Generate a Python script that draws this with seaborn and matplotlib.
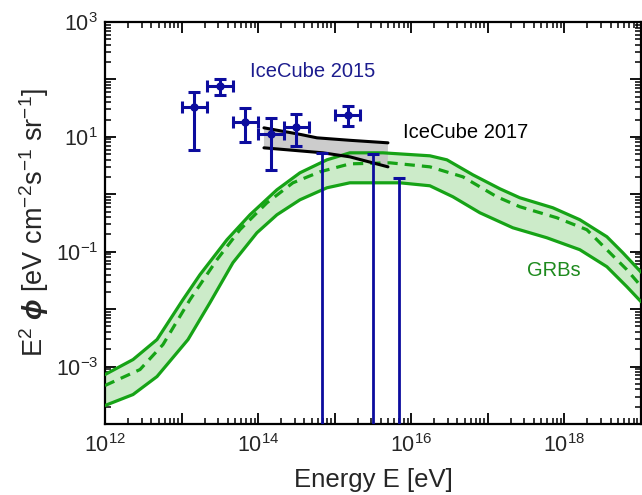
import numpy as np
import pandas as pd
import matplotlib
matplotlib.use("Agg")
import matplotlib.pyplot as plt
import matplotlib.ticker as mticker
import seaborn as sns

# ---------------- data ----------------
# IceCube 2015 data points (E^2 phi in eV cm^-2 s^-1 sr^-1)
ic15_E = [1.47e13, 3.16e13, 6.81e13, 1.47e14, 3.16e14, 1.47e15]
ic15_Elo = [1.0e13, 2.15e13, 4.64e13, 1.0e14, 2.15e14, 1.0e15]
ic15_Ehi = [2.15e13, 4.64e13, 1.0e14, 2.15e14, 4.64e14, 2.15e15]
ic15_flux = [32.9, 76.0, 18.0, 11.1, 14.7, 23.8]
ic15_fhi = [60.0, 101.0, 31.5, 21.0, 24.8, 34.0]
ic15_flo = [5.8, 53.0, 8.0, 2.7, 6.9, 15.3]

# IceCube 2015 upper limits
ul_E = [6.81e14, 3.16e15, 6.81e15]
ul_flux = [5.2, 5.1, 1.9]

# IceCube 2017 band (log10 values)
ic17_up_logE = [14.076, 14.56, 14.768, 15.198, 15.695]
ic17_up_logF = [1.157, 1.04, 0.983, 0.94, 0.896]
ic17_lo_logE = [14.076, 14.846, 15.198, 15.695]
ic17_lo_logF = [0.809, 0.722, 0.652, 0.478]

# GRB model band (log10 values)
grb_up_logE = [12.0, 12.366, 12.679, 13.018, 13.240, 13.593, 13.893, 14.245, 14.546,
               14.898, 15.198, 15.629, 16.243, 16.465, 16.804, 17.157, 17.418, 17.849,
               18.201, 18.554, 18.762, 19.0]
grb_up_logF = [-3.139, -2.878, -2.530, -1.835, -1.400, -0.791, -0.357, 0.078, 0.374,
               0.600, 0.722, 0.722, 0.670, 0.600, 0.339, 0.096, -0.061, -0.235,
               -0.443, -0.739, -1.017, -1.355]
grb_lo_logE = [12.0, 12.366, 12.679, 13.084, 13.371, 13.671, 13.984, 14.245, 14.546,
               14.898, 15.198, 15.851, 16.243, 16.543, 16.896, 17.326, 17.770, 18.201,
               18.554, 18.815, 19.0]
grb_lo_logF = [-3.678, -3.487, -3.174, -2.530, -1.887, -1.191, -0.670, -0.357, -0.096,
               0.113, 0.200, 0.200, 0.148, -0.043, -0.322, -0.583, -0.757, -0.965,
               -1.261, -1.609, -1.870]
grb_mid_logE = [12.0, 12.457, 12.757, 13.110, 13.462, 13.762, 14.115, 14.454, 14.807,
                15.198, 15.721, 16.243, 16.674, 17.117, 17.418, 17.901, 18.293, 18.554,
                18.815, 19.0]
grb_mid_logF = [-3.330, -3.052, -2.617, -1.835, -1.139, -0.617, -0.148, 0.200, 0.391,
                0.530, 0.548, 0.478, 0.304, -0.043, -0.217, -0.409, -0.617, -0.965,
                -1.313, -1.600]

# ---------------- style ----------------
sns.set_theme(style="ticks")
plt.rcParams["font.family"] = ["Liberation Sans", "DejaVu Sans"]
plt.rcParams["mathtext.fontset"] = "custom"
plt.rcParams["mathtext.rm"] = "Liberation Sans"
plt.rcParams["mathtext.it"] = "Liberation Sans:italic"
plt.rcParams["mathtext.bf"] = "Liberation Sans:bold:italic"
plt.rcParams["mathtext.default"] = "regular"

BLUE = "#0c0c9e"
BLUE_TXT = "#1c1c8e"
GREEN = "#16a316"
GREEN_TXT = "#1d8a1d"
GREEN_FILL = "#ccebc9"
GRAY_FILL = "#c4c4c4"

fig = plt.figure(figsize=(6.42, 4.95), dpi=100)
ax = fig.add_axes([105 / 642, 1 - 424 / 495, 536 / 642, 402 / 495])
ax.set_xscale("log")
ax.set_yscale("log")

def tolin(a):
    return np.power(10.0, np.asarray(a, dtype=float))

# GRB band
gu_E, gu_F = tolin(grb_up_logE), tolin(grb_up_logF)
gl_E, gl_F = tolin(grb_lo_logE), tolin(grb_lo_logF)
gm_E, gm_F = tolin(grb_mid_logE), tolin(grb_mid_logF)
ax.fill(np.concatenate([gu_E, gl_E[::-1]]), np.concatenate([gu_F, gl_F[::-1]]),
        color=GREEN_FILL, lw=0, zorder=1)

# IceCube 2017 band
iu_E, iu_F = tolin(ic17_up_logE), tolin(ic17_up_logF)
il_E, il_F = tolin(ic17_lo_logE), tolin(ic17_lo_logF)
ax.fill(np.concatenate([iu_E, il_E[::-1]]), np.concatenate([iu_F, il_F[::-1]]),
        color=GRAY_FILL, alpha=0.85, lw=0, zorder=2)

df_up = pd.DataFrame({"E": gu_E, "F": gu_F})
df_lo = pd.DataFrame({"E": gl_E, "F": gl_F})
sns.lineplot(data=df_up, x="E", y="F", ax=ax, color=GREEN, lw=2.3, sort=False, zorder=3)
sns.lineplot(data=df_lo, x="E", y="F", ax=ax, color=GREEN, lw=2.3, sort=False, zorder=3)
ax.plot(gm_E, gm_F, color=GREEN, lw=2.3, ls=(0, (3.2, 2.2)), zorder=3)

sns.lineplot(x=iu_E, y=iu_F, ax=ax, color="black", lw=2.2, sort=False, zorder=4)
sns.lineplot(x=il_E, y=il_F, ax=ax, color="black", lw=2.2, sort=False, zorder=4)

# IceCube 2015 points
E = np.array(ic15_E); F = np.array(ic15_flux)
xerr = [E - np.array(ic15_Elo), np.array(ic15_Ehi) - E]
yerr = [F - np.array(ic15_flo), np.array(ic15_fhi) - F]
ax.errorbar(E, F, xerr=xerr, yerr=yerr, fmt="o", ms=5, color=BLUE, ecolor=BLUE,
            elinewidth=2.2, capsize=4.5, capthick=2.2, zorder=5)

# upper limits
uE = np.array(ul_E); uF = np.array(ul_flux)
ax.errorbar(uE, uF, yerr=[uF - 1e-6, np.zeros_like(uF)], fmt="none", ecolor=BLUE,
            elinewidth=2.0, capsize=4.5, capthick=2.2, zorder=5)

ax.set_xlim(1e12, 1e19)
ax.set_ylim(1e-4, 1e3)

ax.xaxis.set_major_locator(mticker.LogLocator(base=10, numticks=20))
ax.yaxis.set_major_locator(mticker.LogLocator(base=10, numticks=20))
ax.xaxis.set_minor_locator(mticker.LogLocator(base=10, subs=np.arange(2, 10), numticks=100))
ax.yaxis.set_minor_locator(mticker.LogLocator(base=10, subs=np.arange(2, 10), numticks=100))
ax.xaxis.set_minor_formatter(mticker.NullFormatter())
ax.yaxis.set_minor_formatter(mticker.NullFormatter())

def xfmt(v, pos):
    e = int(round(np.log10(v)))
    return f"$10^{{{e}}}$" if e % 2 == 0 else ""

def yfmt(v, pos):
    e = int(round(np.log10(v)))
    return f"$10^{{{e}}}$" if e % 2 != 0 else ""

ax.xaxis.set_major_formatter(mticker.FuncFormatter(xfmt))
ax.yaxis.set_major_formatter(mticker.FuncFormatter(yfmt))

ax.tick_params(which="both", direction="in", top=True, right=True, color="black")
ax.tick_params(which="major", length=8, width=1.3, labelsize=15.5)
ax.tick_params(axis="x", which="major", pad=7)
ax.tick_params(axis="y", which="major", pad=5)
ax.tick_params(which="minor", length=4.5, width=1.1)
for s in ax.spines.values():
    s.set_linewidth(1.6)
    s.set_color("black")

ax.set_xlabel("Energy E [eV]", fontsize=18.5, labelpad=8)
ax.set_ylabel(r"E$^2$ $\mathbf{\phi}$ [eV cm$^{-2}$s$^{-1}$ sr$^{-1}$]", fontsize=19.5, labelpad=3)

ax.text(10 ** 14.71, 10 ** 2.13, "IceCube 2015", color=BLUE_TXT, fontsize=14.5,
        ha="center", va="center")
ax.text(10 ** 16.71, 10 ** 1.07, "IceCube 2017", color="black", fontsize=14.5,
        ha="center", va="center")
ax.text(10 ** 17.86, 10 ** -1.33, "GRBs", color=GREEN_TXT, fontsize=14.5,
        ha="center", va="center")

fig.savefig("out.png", dpi=100)
